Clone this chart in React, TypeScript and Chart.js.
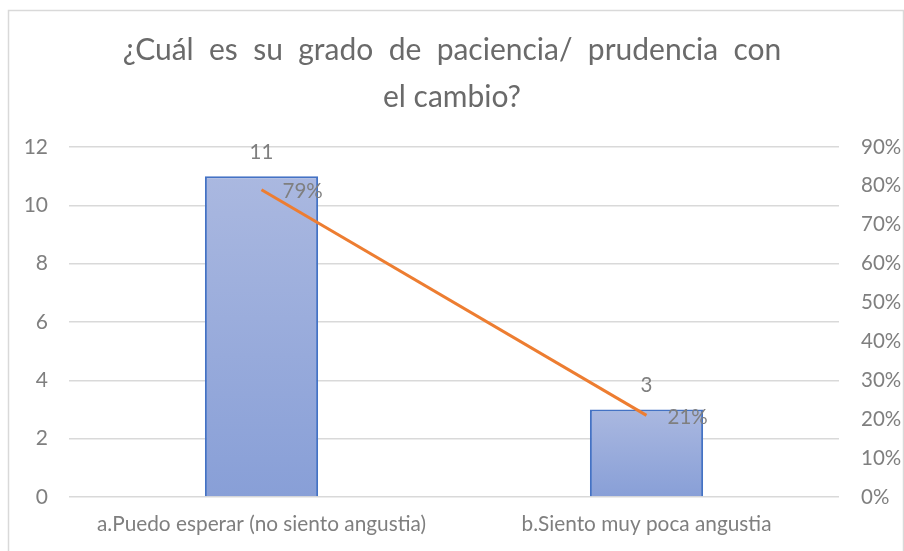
import React, { useEffect, useRef } from "react";
import { Chart, registerables } from "chart.js";

Chart.register(...registerables);

const categories = ["a.Puedo esperar (no siento angustia)", "b.Siento muy poca angustia"];
const counts = [11, 3];
const percents = [0.79, 0.21];
const percentLabels = ["79%", "21%"];
const leftTicks = [0, 2, 4, 6, 8, 10, 12];
const rightTicks = [0, 0.1, 0.2, 0.3, 0.4, 0.5, 0.6, 0.7, 0.8, 0.9];
const titleLines = ["¿Cuál  es  su  grado  de  paciencia/  prudencia  con", "el cambio?"];

const FONT = "Lato, 'Open Sans', sans-serif";
const LABEL_COLOR = "#7f7f7f";

const frame = {
  id: "frame",
  beforeDraw(chart: any) {
    const c = chart.ctx;
    c.save();
    c.fillStyle = "#ffffff";
    c.fillRect(0, 0, chart.width, chart.height);
    c.strokeStyle = "#d9d9d9";
    c.lineWidth = 1.5;
    c.strokeRect(8.5, 10.5, chart.width - 9, chart.height - 1);
    c.restore();
  },
};

const valueLabels = {
  id: "valueLabels",
  afterDatasetsDraw(chart: any) {
    const c = chart.ctx;
    c.save();
    c.font = `20.5px ${FONT}`;
    c.fillStyle = LABEL_COLOR;
    chart.data.datasets.forEach((ds: any, di: number) => {
      const meta = chart.getDatasetMeta(di);
      meta.data.forEach((el: any, i: number) => {
        if (ds.type === "bar") {
          c.textAlign = "center";
          c.textBaseline = "middle";
          c.fillText(String(counts[i]), el.x, el.y - 24);
        } else {
          c.textAlign = "left";
          c.textBaseline = "middle";
          c.fillText(percentLabels[i], el.x + 21, el.y + 2);
        }
      });
    });
    c.restore();
  },
};

export default function App() {
  const ref = useRef<HTMLCanvasElement | null>(null);

  useEffect(() => {
    document.body.style.margin = "0";
    const canvas = ref.current;
    if (!canvas) return;
    const chart = new Chart(canvas, {
      type: "bar",
      data: {
        labels: categories,
        datasets: [
          {
            type: "line",
            data: percents,
            yAxisID: "y1",
            borderColor: "#ED7D31",
            borderWidth: 3,
            pointRadius: 0,
            pointHoverRadius: 0,
            fill: false,
            order: 0,
          } as any,
          {
            type: "bar",
            data: counts,
            yAxisID: "y",
            borderColor: "#4472C4",
            borderWidth: 2,
            order: 1,
            categoryPercentage: 1,
            barPercentage: 0.294,
            backgroundColor: (ctx: any) => {
              const ch = ctx.chart;
              const ys = ch.scales && ch.scales.y;
              if (ctx.dataIndex === undefined || !ys || !ch.chartArea) return "#98abdb";
              const top = ys.getPixelForValue(counts[ctx.dataIndex]);
              const bottom = ys.getPixelForValue(0);
              if (!isFinite(top) || !isFinite(bottom) || top === bottom) return "#98abdb";
              const g = ch.ctx.createLinearGradient(0, top, 0, bottom);
              g.addColorStop(0, "#aab8e0");
              g.addColorStop(1, "#889fd7");
              return g;
            },
          } as any,
        ],
      },
      options: {
        animation: false,
        responsive: false,
        maintainAspectRatio: false,
        layout: { padding: { top: 0, left: 0, right: 0, bottom: 0 } },
        plugins: {
          legend: { display: false },
          tooltip: { enabled: false },
          title: {
            display: true,
            text: titleLines,
            color: "#6a6a6a",
            font: { family: FONT, size: 30, weight: "normal", lineHeight: 47 / 30 },
            padding: { top: 26.5, bottom: 26.5 },
          },
        },
        scales: {
          x: {
            offset: true,
            grid: { display: false, drawTicks: false },
            border: { display: false },
            ticks: {
              color: LABEL_COLOR,
              font: { family: FONT, size: 20.8 },
              padding: 15,
              maxRotation: 0,
              autoSkip: false,
            },
            afterFit: (s: any) => {
              s.height = 54;
            },
          },
          y: {
            position: "left",
            min: 0,
            max: 12,
            afterBuildTicks: (s: any) => {
              s.ticks = leftTicks.map((v) => ({ value: v }));
            },
            grid: { color: "#d9d9d9", lineWidth: 1.5, drawTicks: false },
            border: { display: false },
            ticks: {
              color: LABEL_COLOR,
              font: { family: FONT, size: 21 },
              padding: 21,
            },
            afterFit: (s: any) => {
              s.width = 69;
            },
          },
          y1: {
            position: "right",
            min: 0,
            max: 0.9,
            afterBuildTicks: (s: any) => {
              s.ticks = rightTicks.map((v) => ({ value: v }));
            },
            grid: { display: false, drawTicks: false },
            border: { display: false },
            ticks: {
              color: LABEL_COLOR,
              font: { family: FONT, size: 20.5 },
              padding: 22,
              callback: (v: any) => `${Math.round(Number(v) * 100)}%`,
            },
            afterFit: (s: any) => {
              s.width = 65;
            },
          },
        },
      },
      plugins: [frame, valueLabels],
    } as any);
    return () => chart.destroy();
  }, []);

  return (
    <div style={{ width: 904, height: 551 }}>
      <canvas ref={ref} width={904} height={551} style={{ display: "block", width: 904, height: 551 }} />
    </div>
  );
}
